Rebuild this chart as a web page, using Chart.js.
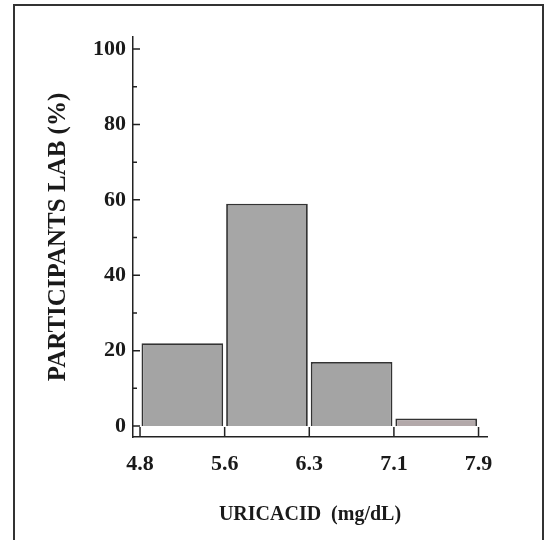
<!DOCTYPE html>
<html>
<head>
<meta charset="utf-8">
<script src="https://cdn.jsdelivr.net/npm/chart.js@4.4.0/dist/chart.umd.min.js"></script>
<style>
  body { margin: 0; background: #fff; }
  #wrap { position: relative; width: 547px; height: 540px; overflow: hidden; }
  #frame { position: absolute; left: 13px; top: 4px; width: 527px; height: 560px; border: 2px solid #333; }
  canvas { position: absolute; left: 0; top: 0; }
</style>
</head>
<body>
<div id="wrap">
  <div id="frame"></div>
  <canvas id="histChart" width="547" height="540"></canvas>
</div>
<script>
// bin edges of uric acid (mg/dL)
var binEdges = ['4.8', '5.6', '6.3', '7.1', '7.9'];
// participants per bin (%)
var participants = [22, 59, 17, 2];
var yLabelTicks = [0, 20, 40, 60, 80, 100];
var yMinorTicks = [10, 30, 50, 70, 90];

var serif = "'Liberation Serif', 'DejaVu Serif', serif";

// tick marks pointing into the plot, like the original
var inwardTicks = {
	id: 'inwardTicks',
	afterDraw: function (chart) {
		var c = chart.ctx;
		var xs = chart.scales.x, ys = chart.scales.y;
		c.save();
		c.strokeStyle = '#222';
		c.lineWidth = 1.5;
		c.beginPath();
		ys.ticks.forEach(function (t) {
			var py = ys.getPixelForValue(t.value);
			var len = yLabelTicks.indexOf(t.value) >= 0 ? 7 : 4;
			c.moveTo(ys.right, py);
			c.lineTo(ys.right + len, py);
		});
		xs.ticks.forEach(function (t) {
			var px = xs.getPixelForValue(t.value);
			c.moveTo(px, xs.top);
			c.lineTo(px, xs.top - 10);
		});
		c.stroke();
		c.restore();
	}
};

var ctx = document.getElementById('histChart').getContext('2d');
var myHistChart = new Chart(ctx, {
	type: 'bar',
	data: {
		datasets: [{
			label: 'participants',
			data: participants.map(function (v, i) { return { x: i + 0.5, y: v }; }),
			backgroundColor: ['#a4a4a4', '#a6a6a6', '#a4a4a4', '#b3a9aa'],
			borderColor: '#333',
			borderWidth: 1.8,
			categoryPercentage: 1,
			barPercentage: 0.965
		}]
	},
	plugins: [inwardTicks],
	options: {
		responsive: false,
		animation: false,
		layout: { padding: { left: 44, top: 37, right: 60, bottom: 13 } },
		plugins: {
			legend: { display: false },
			tooltip: { enabled: false }
		},
		scales: {
			x: {
				type: 'linear',
				offset: false,
				min: -0.083,
				max: 4.1,
				afterBuildTicks: function (scale) {
					scale.ticks = binEdges.map(function (e, i) { return { value: i }; });
				},
				afterFit: function (scale) { scale.height = 90; },
				grid: { display: false, drawTicks: false },
				border: { display: true, color: '#222', width: 1.5 },
				ticks: {
					padding: 14,
					color: '#1a1a1a',
					font: { family: serif, size: 22, weight: 'bold' },
					callback: function (v) { return binEdges[v]; }
				},
				title: {
					display: true,
					text: 'URICACID  (mg/dL)',
					color: '#1a1a1a',
					padding: 0,
					font: { family: serif, size: 20, weight: 'bold' }
				}
			},
			y: {
				min: -2.9,
				max: 103.2,
				afterBuildTicks: function (scale) {
					scale.ticks = yLabelTicks.concat(yMinorTicks).sort(function (a, b) { return a - b; })
						.map(function (v) { return { value: v }; });
				},
				afterFit: function (scale) { scale.width = 89; },
				grid: { display: false, drawTicks: false },
				border: { display: true, color: '#222', width: 1.5 },
				ticks: {
					padding: 7,
					color: '#1a1a1a',
					font: { family: serif, size: 22, weight: 'bold' },
					callback: function (v) { return yLabelTicks.indexOf(v) >= 0 ? v : ''; }
				},
				title: {
					display: true,
					text: 'PARTICIPANTS LAB (%)',
					color: '#1a1a1a',
					padding: 0,
					font: { family: serif, size: 25, weight: 'bold' }
				}
			}
		}
	}
});
</script>
</body>
</html>
